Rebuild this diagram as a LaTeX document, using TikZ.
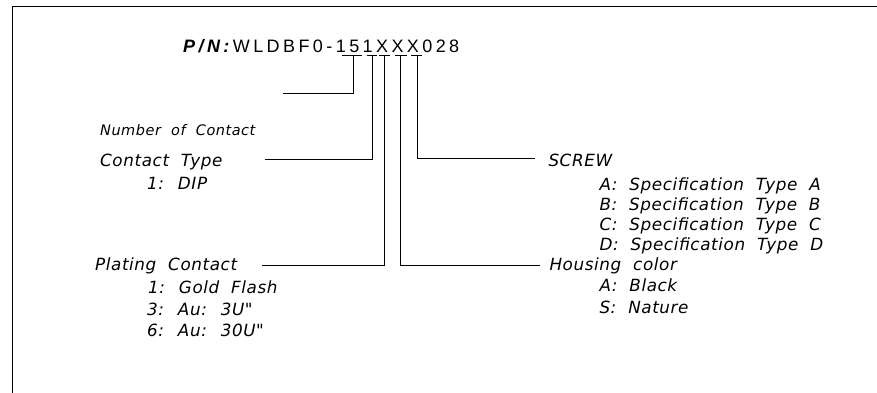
\documentclass[tikz,border=0pt]{standalone}
\usepackage{fontspec}
\newfontfamily\cadfont{DejaVu Sans}[LetterSpace=3.5,WordSpace=2.0]
\newfontfamily\pnfont{Liberation Sans}[LetterSpace=19]
\tikzset{
  lbl/.style={inner sep=0pt,anchor=base west,font=\cadfont\itshape\fontsize{16.8}{19}\selectfont},
  lead/.style={line width=0.9pt},
}
\begin{document}
\begin{tikzpicture}[x=1pt,y=-1pt]
\useasboundingbox (0,0) rectangle (877,393);
% frame
\draw[line width=1.4pt] (877,6.5) -- (12.7,6.5) -- (12.7,393);
% part number
\node[inner sep=0pt,anchor=base west,font=\pnfont\fontsize{18}{20}\selectfont] (pn) at (183,52.5) {\textbf{\textit{P/N:}}WLDBF0-151XXX028};
\foreach \a/\b in {341.7/361.7,366.7/376.7,379/390,395/407,411/422}
  \draw[lead] (\a,55.5) -- (\b,55.5);
\coordinate (t15) at (353,55.5);
\coordinate (t1) at (372,55.5);
\coordinate (tx1) at (384.3,55.5);
\coordinate (tx2) at (400.3,55.5);
\coordinate (tx3) at (417,55.5);
% leader ends
\coordinate (nc) at (283,93);
\coordinate (ct) at (265,159.3);
\coordinate (pc) at (262,265);
\coordinate (hc) at (540,265);
\coordinate (sc) at (535,158.3);
\draw[lead] (t15) |- (nc);
\draw[lead] (t1) |- (ct);
\draw[lead] (tx1) |- (pc);
\draw[lead] (tx2) |- (hc);
\draw[lead] (tx3) |- (sc);
% left labels
\node[lbl,font=\cadfont\itshape\fontsize{14.5}{16}\selectfont] (num) at (100,135.7) {Number of Contact};
\node[lbl] (ctype) at (100,166.7) {Contact Type};
\node[lbl] (dip) at (147,189) {1: DIP};
\node[lbl] (plat) at (95,270.7) {Plating Contact};
\node[lbl] (gold) at (148,293.3) {1: Gold Flash};
\node[lbl] (au3) at (147,315) {3: Au: 3U"};
\node[lbl] (au30) at (147,336.7) {6: Au: 30U"};
% right labels
\node[lbl] (screw) at (548.3,166.7) {SCREW};
\node[lbl] (spa) at (599.3,190) {A: Specification Type A};
\node[lbl] (spb) at (599.3,210.2) {B: Specification Type B};
\node[lbl] (spc) at (599.3,230.4) {C: Specification Type C};
\node[lbl] (spd) at (599.3,250.6) {D: Specification Type D};
\node[lbl] (house) at (549.3,270) {Housing color};
\node[lbl] (black) at (599.3,291.7) {A: Black};
\node[lbl] (nat) at (599.3,313.4) {S: Nature};
\end{tikzpicture}
\end{document}
